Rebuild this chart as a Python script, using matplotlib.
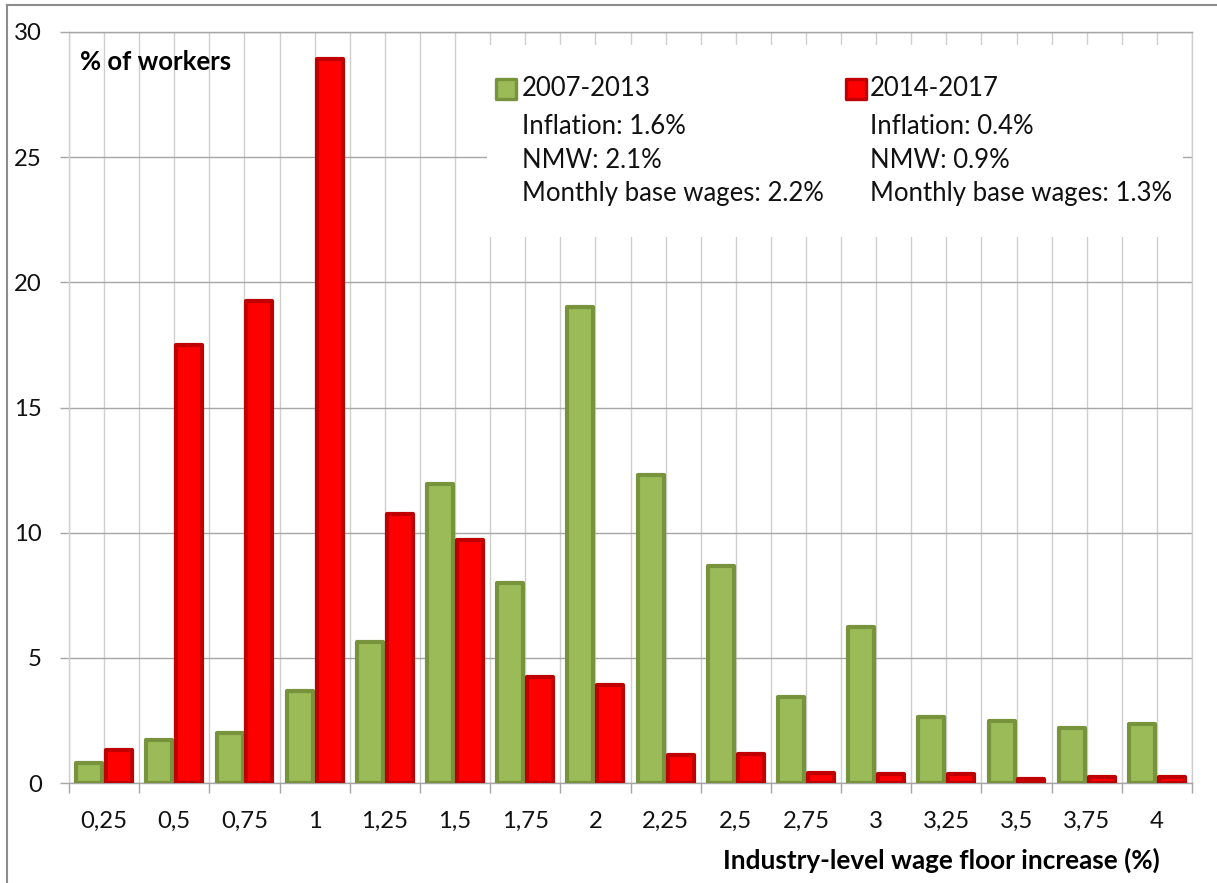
import matplotlib
matplotlib.use('Agg')
import matplotlib.pyplot as plt
from matplotlib.patches import Rectangle
import numpy as np

categories = ['0,25', '0,5', '0,75', '1', '1,25', '1,5', '1,75', '2',
              '2,25', '2,5', '2,75', '3', '3,25', '3,5', '3,75', '4']
series_2007_2013 = [0.8, 1.7, 2.0, 3.67, 5.62, 11.93, 7.98, 19.03,
                    12.29, 8.66, 3.43, 6.25, 2.62, 2.47, 2.2, 2.35]
series_2014_2017 = [1.32, 17.5, 19.27, 28.92, 10.73, 9.69, 4.25, 3.91,
                    1.12, 1.16, 0.4, 0.34, 0.34, 0.14, 0.22, 0.22]
legend_labels = ['2007-2013', '2014-2017']
legend_notes = [['Inflation: 1.6%', 'NMW: 2.1%', 'Monthly base wages: 2.2%'],
                ['Inflation: 0.4%', 'NMW: 0.9%', 'Monthly base wages: 1.3%']]
y_label = '% of workers'
x_label = 'Industry-level wage floor increase (%)'

plt.rcParams['font.family'] = ['Lato', 'DejaVu Sans']

W, H = 1217, 883
fig = plt.figure(figsize=(W / 100, H / 100), dpi=100)


def fx(px):
    return px / W


def fy(py):
    return 1 - py / H


L, R, T, B = 69, 1192, 32, 783
ax = fig.add_axes([fx(L), fy(B), (R - L) / W, (B - T) / H])

green_fc, green_ec = '#9BBB59', '#77933C'
red_fc, red_ec = '#FF0000', '#C00000'

x = np.arange(len(categories))
ax.bar(x - 0.213, series_2007_2013, width=0.37, color=green_fc, edgecolor=green_ec,
       linewidth=3.0, zorder=3, joinstyle='round')
ax.bar(x + 0.213, series_2014_2017, width=0.37, color=red_fc, edgecolor=red_ec,
       linewidth=3.0, zorder=3, joinstyle='round')

ax.set_xlim(-0.5, len(categories) - 0.5)
ax.set_ylim(0, 30)
ax.set_yticks(range(0, 31, 5))
ax.set_xticks(x)
ax.set_xticklabels(categories)
ax.set_xticks(np.arange(-0.5, len(categories), 1.0), minor=True)

ax.tick_params(axis='x', which='major', length=0, pad=20, labelsize=17.2, colors='#111111')
ax.tick_params(axis='x', which='minor', length=7, width=1, color='#A6A6A6')
ax.tick_params(axis='y', length=6.5, width=1, color='#A6A6A6', pad=13, labelsize=17.2,
               labelcolor='#111111')

ax.set_axisbelow(True)
ax.grid(axis='y', color='#A6A6A6', linewidth=1.0, zorder=0.5)
ax.grid(axis='x', which='both', color='#CFCFCF', linewidth=1.0, zorder=0.5)

for s in ['left', 'right']:
    ax.spines[s].set_color('#CFCFCF')
for s in ['top', 'bottom']:
    ax.spines[s].set_color('#A6A6A6')
for s in ax.spines.values():
    s.set_linewidth(1.0)

# white legend backdrop hiding gridlines
x0, x1 = (487 - L) / (R - L), (1183 - L) / (R - L)
y0, y1 = (B - 237) / (B - T), (B - 45) / (B - T)
ax.add_patch(Rectangle((x0, y0), x1 - x0, y1 - y0, transform=ax.transAxes,
                       facecolor='white', edgecolor='none', zorder=2))

# legend content
cols = [(496, 522, green_fc, green_ec), (846, 870, red_fc, red_ec)]
rows_y = [89, 127, 160, 193]
for (mx, tx, fc, ec), lab, notes in zip(cols, legend_labels, legend_notes):
    fig.add_artist(Rectangle((fx(mx), fy(rows_y[0] + 10)), 20 / W, 20 / H,
                             transform=fig.transFigure, facecolor=fc, edgecolor=ec,
                             linewidth=2.4, joinstyle='round'))
    fig.text(fx(tx), fy(rows_y[0]), lab, fontsize=18.5, va='center', ha='left', color='#111111')
    for ry, note in zip(rows_y[1:], notes):
        fig.text(fx(tx), fy(ry), note, fontsize=18.5, va='center', ha='left', color='#111111')

fig.text(fx(80), fy(62), y_label, fontsize=18.5, fontweight='bold', va='center', ha='left')
fig.text(fx(1160), fy(860), x_label, fontsize=18.8, fontweight='bold', va='center', ha='right')

# figure frame (left and top)
fig.add_artist(plt.Line2D([fx(7), fx(7)], [fy(5), 0], transform=fig.transFigure,
                          color='#8C8C8C', linewidth=1.5))
fig.add_artist(plt.Line2D([fx(7), 1], [fy(5), fy(5)], transform=fig.transFigure,
                          color='#8C8C8C', linewidth=1.5))

fig.savefig('out.png', dpi=100, facecolor='white')
